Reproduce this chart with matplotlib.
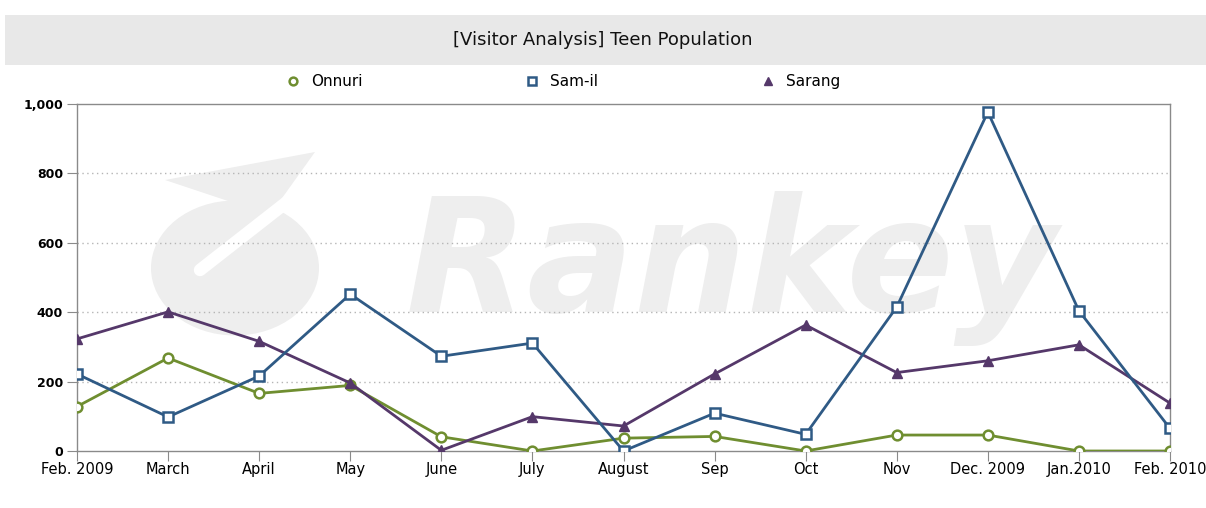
import matplotlib.pyplot as plt
from matplotlib.patches import Rectangle, Ellipse, Polygon
from matplotlib.lines import Line2D
from matplotlib.ticker import FuncFormatter

months = ['Feb. 2009', 'March', 'April', 'May', 'June', 'July', 'August',
          'Sep', 'Oct', 'Nov', 'Dec. 2009', 'Jan.2010', 'Feb. 2010']
onnuri = [128, 268, 166, 189, 41, 0, 37, 42, 0, 46, 46, 0, 0]
samil = [222, 98, 216, 452, 273, 311, 0, 109, 48, 415, 977, 404, 65]
sarang = [323, 401, 316, 196, 2, 99, 72, 222, 363, 226, 260, 306, 138]

W, H = 1206, 508
fig = plt.figure(figsize=(W / 100, H / 100), dpi=100)

def fx(px):
    return px / W

def fy(py):
    return 1 - py / H

# title bar
fig.patches.append(Rectangle((fx(5), fy(65)), fx(1201), 50 / H, transform=fig.transFigure,
                             facecolor='#e8e8e8', edgecolor='none', zorder=-3))
fig.text(0.5, fy(40), '[Visitor Analysis] Teen Population', ha='center', va='center',
         fontsize=13, color='#111111')

# watermark (kept behind the axes)
wm = '#eeeeee'
fig.patches.append(Ellipse((fx(235), fy(268)), 168 / W, 135 / H, transform=fig.transFigure,
                           facecolor=wm, edgecolor='none', zorder=-3))
fig.patches.append(Polygon([(fx(165), fy(180)), (fx(315), fy(152)), (fx(270), fy(215))],
                           closed=True, transform=fig.transFigure,
                           facecolor=wm, edgecolor='none', zorder=-3))
fig.lines.append(Line2D([fx(200), fx(292)], [fy(270), fy(198)], transform=fig.transFigure,
                        color='white', lw=9, solid_capstyle='round', zorder=-2))
fig.text(fx(732), fy(268), 'Rankey', ha='center', va='center', fontsize=114,
         fontweight='bold', style='italic', color=wm, zorder=-3)

ax = fig.add_axes([fx(77), fy(451), fx(1170 - 77), (451 - 104) / H])
ax.patch.set_alpha(0)

x = list(range(len(months)))
ax.plot(x, onnuri, color='#6f8e30', lw=2, marker='o', ms=7, mfc='white', mec='#6f8e30',
        mew=1.8, label='Onnuri', zorder=3)
ax.plot(x, samil, color='#2f5a85', lw=2, marker='s', ms=7, mfc='white', mec='#2f5a85',
        mew=1.8, label='Sam-il', zorder=4)
ax.plot(x, sarang, color='#55386a', lw=2, marker='^', ms=7, mfc='#55386a', mec='#55386a',
        label='Sarang', zorder=3)

ax.set_xlim(0, len(months) - 1)
ax.set_ylim(0, 1000)
ax.set_yticks([0, 200, 400, 600, 800, 1000])
ax.yaxis.set_major_formatter(FuncFormatter(lambda v, p: f'{int(v):,}'))
ax.set_xticks(x)
ax.set_xticklabels(months)
for g in [200, 400, 600, 800]:
    ax.axhline(g, color='#b5b5b5', lw=1, ls=(0, (1, 2.5)), zorder=1)

for s in ax.spines.values():
    s.set_color('#8a8a8a')
    s.set_linewidth(1)
ax.tick_params(axis='y', length=7, color='#8a8a8a', labelsize=10, pad=3)
ax.tick_params(axis='x', length=7, color='#8a8a8a', labelsize=10.5, pad=1)
for t in ax.get_yticklabels():
    t.set_fontweight('bold')
    t.set_fontsize(9)

fig.legend(loc='center', bbox_to_anchor=(fx(562), fy(82)), ncol=3, frameon=False,
           fontsize=11, handlelength=1.2, handletextpad=0.6, columnspacing=10.5,
           markerscale=0.8)
for h in fig.legends[0].get_lines():
    h.set_linestyle('none')

fig.savefig('out.png', dpi=100)
